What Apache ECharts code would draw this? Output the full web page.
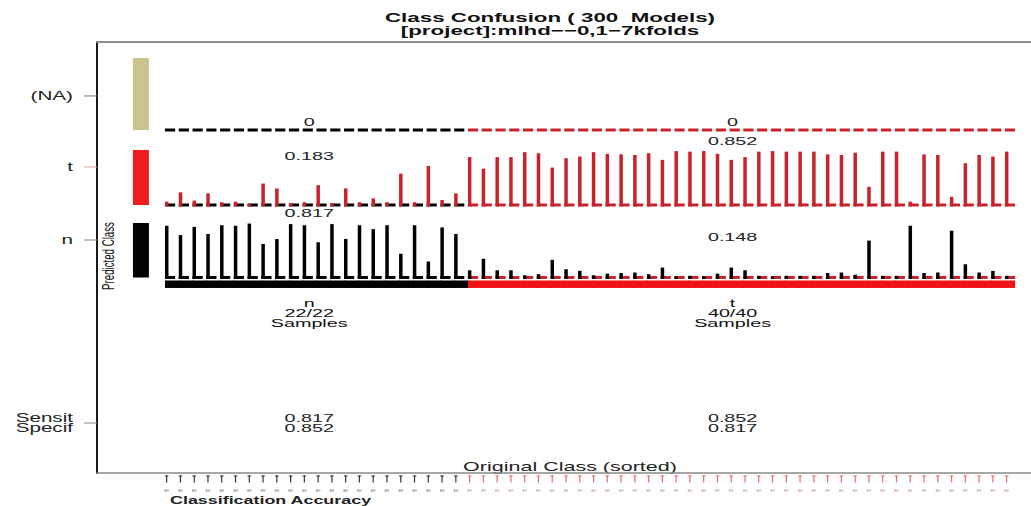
<!DOCTYPE html>
<html>
<head>
<meta charset="utf-8">
<title>Class Confusion</title>
<script src="https://cdn.jsdelivr.net/npm/echarts@6/dist/echarts.min.js"></script>
<style>
  html, body { margin: 0; padding: 0; background: #ffffff; }
  #chart { width: 1031px; height: 506px; }
</style>
</head>
<body>
<div id="chart"></div>
<script>
// ---- data ---------------------------------------------------------------
// original class of every sample (sorted by class)
const sampleClass = [
  'n','n','n','n','n','n','n','n','n','n','n',
  'n','n','n','n','n','n','n','n','n','n','n',
  't','t','t','t','t','t','t','t','t','t',
  't','t','t','t','t','t','t','t','t','t',
  't','t','t','t','t','t','t','t','t','t',
  't','t','t','t','t','t','t','t','t','t'
];
const classNames = ['n', 't'];
const rowLabels = ['(NA)', 't', 'n'];
const summaryLabels = ['Sensit', 'Specif'];
const titleLines = ['Class Confusion ( 300  Models)', '[project]:mlhd\u2212\u22120,1\u22127kfolds'];

// fraction of models predicting each class for every sample
const predictedNA = [
  0, 0, 0, 0, 0, 0, 0, 0, 0, 0, 0,
  0, 0, 0, 0, 0, 0, 0, 0, 0, 0, 0,
  0, 0, 0, 0, 0, 0, 0, 0, 0, 0,
  0, 0, 0, 0, 0, 0, 0, 0, 0, 0,
  0, 0, 0, 0, 0, 0, 0, 0, 0, 0,
  0, 0, 0, 0, 0, 0, 0, 0, 0, 0
];
const predictedT = [
  0.06, 0.23, 0.08, 0.21, 0.05, 0.06, 0.02, 0.39, 0.30, 0.03, 0.05,
  0.36, 0.03, 0.30, 0.05, 0.12, 0.05, 0.57, 0.05, 0.71, 0.09, 0.21,
  0.87, 0.66, 0.87, 0.87, 0.96, 0.94, 0.68, 0.85, 0.88, 0.96,
  0.93, 0.92, 0.91, 0.94, 0.82, 0.98, 0.97, 0.98, 0.93, 0.82,
  0.87, 0.97, 0.98, 0.97, 0.97, 0.97, 0.92, 0.91, 0.95, 0.33,
  0.97, 0.97, 0.06, 0.92, 0.91, 0.15, 0.76, 0.91, 0.88, 0.97
];
const predictedN = [
  0.94, 0.77, 0.92, 0.79, 0.95, 0.94, 0.98, 0.61, 0.70, 0.97, 0.95,
  0.64, 0.97, 0.70, 0.95, 0.88, 0.95, 0.43, 0.95, 0.29, 0.91, 0.79,
  0.13, 0.34, 0.13, 0.13, 0.04, 0.06, 0.32, 0.15, 0.12, 0.04,
  0.07, 0.08, 0.09, 0.06, 0.18, 0.02, 0.03, 0.02, 0.07, 0.18,
  0.13, 0.03, 0.02, 0.03, 0.03, 0.03, 0.08, 0.09, 0.05, 0.67,
  0.03, 0.03, 0.94, 0.08, 0.09, 0.85, 0.24, 0.09, 0.12, 0.03
];

// ---- layout (sample index horizontally, bar-height units vertically) ----
const X_MIN = -5.06, X_MAX = 62.77;
const Y_MIN = 0, Y_MAX = 7.836;
const ROW_BASE = [6.236, 4.873, 3.555];         // baselines of (NA), t, n
const ROW_TICK = [6.855, 5.564, 4.236];         // left axis label positions
const MEAN_LIFT = [[0.145, 0.145], [0.89, 1.164], [1.173, 0.736]];
const BLOCK_HEIGHT = [1.31, 1.0, 0.99];
const BLOCK_X = [-2.45, -1.29];
const BAND = [3.364, 3.5];
const GROUP_X = [10.35, 41.1];
const COUNT_Y = [3.091, 2.909, 2.727];
const SUMMARY_Y = [1.0, 0.818];
const SUMMARY_TICK = 0.909;
const DASH_LEN = 0.74;
const BAR_PX = 3.5;
const STRETCH = 1.72;
const FONT = '"Liberation Sans", Arial, Helvetica, sans-serif';

const CLASS_COLOR = { n: '#000000', t: '#c8232c' };
const BAND_COLOR = { n: '#000000', t: '#f01414' };
const TICK_COLOR = { n: '#333333', t: '#e07070' };
const TINY_COLOR = { n: '#8a8a8a', t: '#c7a4a4' };
const ROW_BAR_COLOR = ['#c9c38c', '#c8232c', '#000000'];
const ROW_BLOCK_COLOR = ['#c9c38c', '#ee1c1c', '#000000'];
const ROW_TICK_COLOR = ['#777777', '#e9a0a0', '#888888'];

// ---- summaries ----------------------------------------------------------
const rows = [predictedNA, predictedT, predictedN];
const ownRow = { n: predictedN, t: predictedT };
const groupIdx = classNames.map(c => sampleClass.map((s, i) => (s === c ? i : -1)).filter(i => i >= 0));
const mean = (arr, idx) => idx.reduce((s, i) => s + arr[i], 0) / idx.length;
const fmt = v => { const r = Math.round(v * 1000) / 1000; return r === 0 ? '0' : r.toFixed(3); };
const groupStats = classNames.map((c, g) => {
  const other = groupIdx[1 - g];
  return {
    means: rows.map(arr => fmt(mean(arr, groupIdx[g]))),
    counts: groupIdx[g].length + '/' + groupIdx[g].length,
    sensit: fmt(mean(ownRow[c], groupIdx[g])),
    specif: fmt(1 - mean(ownRow[c], other))
  };
});

// ---- helpers ------------------------------------------------------------
function txt(x, y, text, size, opts) {
  opts = opts || {};
  const align = opts.align || 'center';
  return {
    type: 'text', x: x, y: y,
    scaleX: opts.scaleX == null ? STRETCH : opts.scaleX,
    scaleY: opts.scaleY == null ? 1 : opts.scaleY,
    rotation: opts.rotation || 0,
    silent: true,
    style: {
      text: text, fill: opts.color || '#1a1a1a',
      fontSize: size, fontFamily: FONT, fontWeight: opts.weight || 'normal',
      align: align, textAlign: align,
      verticalAlign: 'middle', textVerticalAlign: 'middle'
    }
  };
}

function rowSeries(r) {
  return {
    type: 'custom', name: rowLabels[r], silent: true, animation: false,
    data: rows[r].map((v, i) => [i, v]),
    encode: { x: 0, y: 1 },
    renderItem: function (params, api) {
      const i = api.value(0), v = api.value(1);
      const base = api.coord([i, ROW_BASE[r]]);
      const top = api.coord([i, ROW_BASE[r] + v]);
      const dashW = api.size([DASH_LEN, 0])[0];
      const kids = [{
        type: 'rect',
        shape: { x: base[0] - 1.7, y: base[1] - 1.5, width: dashW, height: 3 },
        style: { fill: CLASS_COLOR[sampleClass[i]] }
      }];
      if (v > 0) {
        kids.push({
          type: 'rect',
          shape: { x: base[0] - 1.7, y: top[1], width: BAR_PX, height: base[1] - top[1] + 1.5 },
          style: { fill: ROW_BAR_COLOR[r] }
        });
      }
      return { type: 'group', children: kids };
    }
  };
}

// class band, bottom ticks and sample names
const sampleSeries = {
  type: 'custom', silent: true, animation: false,
  data: sampleClass.map((c, i) => [i, 0]),
  encode: { x: 0, y: 1 },
  renderItem: function (params, api) {
    const i = api.value(0);
    const cls = sampleClass[i];
    const lo = api.coord([i, BAND[0]]);
    const hi = api.coord([i, BAND[1]]);
    // segments overlap slightly so the band reads as one solid strip
    const w = i < sampleClass.length - 1 ? api.size([1, 0])[0] + 0.8 : api.size([DASH_LEN, 0])[0];
    const ax = api.coord([i, Y_MIN]);
    return {
      type: 'group',
      children: [
        { type: 'rect', shape: { x: lo[0] - 1.7, y: hi[1], width: w, height: lo[1] - hi[1] }, style: { fill: BAND_COLOR[cls] } },
        { type: 'line', shape: { x1: ax[0], y1: ax[1] + 2.5, x2: ax[0], y2: ax[1] + 9.5 }, style: { stroke: TICK_COLOR[cls], lineWidth: 1.2 } },
        { type: 'line', shape: { x1: ax[0] - 1.8, y1: ax[1] + 3, x2: ax[0] + 1.8, y2: ax[1] + 3 }, style: { stroke: TICK_COLOR[cls], lineWidth: 1 } },
        txt(ax[0], ax[1] + 17, 'e', 5.5, { color: TINY_COLOR[cls] })
      ]
    };
  }
};

// colour keys and labels of the predicted-class rows
const rowKeySeries = {
  type: 'custom', silent: true, animation: false,
  data: rowLabels.map((l, r) => [r, 0]),
  encode: { x: 0, y: 1 },
  renderItem: function (params, api) {
    const r = api.value(0);
    const b0 = api.coord([BLOCK_X[0], ROW_BASE[r]]);
    const b1 = api.coord([BLOCK_X[1], ROW_BASE[r] + BLOCK_HEIGHT[r]]);
    const t = api.coord([X_MIN, ROW_TICK[r]]);
    return {
      type: 'group',
      children: [
        { type: 'rect', shape: { x: b0[0], y: b1[1], width: b1[0] - b0[0], height: b0[1] - b1[1] }, style: { fill: ROW_BLOCK_COLOR[r] } },
        { type: 'line', shape: { x1: t[0] - 13, y1: t[1], x2: t[0], y2: t[1] }, style: { stroke: ROW_TICK_COLOR[r], lineWidth: 1 } },
        txt(t[0] - 24, t[1], rowLabels[r], 12, { align: 'right', color: '#222' })
      ]
    };
  }
};

// per-class group texts: row means, sample counts, sensitivity/specificity
const groupSeries = {
  type: 'custom', silent: true, animation: false,
  data: GROUP_X.map((x, g) => [x, g]),
  encode: { x: 0, y: 1 },
  renderItem: function (params, api) {
    const g = params.dataIndex;
    const cx = api.value(0);
    const st = groupStats[g];
    const kids = [];
    rowLabels.forEach((l, r) => {
      const p = api.coord([cx, ROW_BASE[r] + MEAN_LIFT[r][g]]);
      kids.push(txt(p[0], p[1], st.means[r], 11.5, { color: '#222' }));
    });
    [classNames[g], st.counts, 'Samples'].forEach((s, k) => {
      const p = api.coord([cx, COUNT_Y[k]]);
      kids.push(txt(p[0], p[1], s, 11.5, { color: '#111' }));
    });
    [st.sensit, st.specif].forEach((s, k) => {
      const p = api.coord([cx, SUMMARY_Y[k]]);
      kids.push(txt(p[0], p[1], s, 11.5, { color: '#222' }));
    });
    if (g === 0) {
      const t = api.coord([X_MIN, SUMMARY_TICK]);
      kids.push({ type: 'line', shape: { x1: t[0] - 13, y1: t[1], x2: t[0], y2: t[1] }, style: { stroke: '#888', lineWidth: 1 } });
      summaryLabels.forEach((s, k) => {
        const p = api.coord([X_MIN, SUMMARY_Y[k]]);
        kids.push(txt(p[0] - 24, p[1], s, 12, { align: 'right', color: '#222' }));
      });
    }
    return { type: 'group', children: kids };
  }
};

const chart = echarts.init(document.getElementById('chart'), null, { renderer: 'svg' });
chart.setOption({
  animation: false,
  backgroundColor: '#ffffff',
  grid: { left: 97, right: 0, top: 42, bottom: 33, show: false },
  xAxis: [
    {
      type: 'value', min: X_MIN, max: X_MAX, position: 'bottom',
      axisLine: { show: true, onZero: false, lineStyle: { color: '#8a8a8a', width: 1.5 } },
      axisTick: { show: false }, axisLabel: { show: false }, splitLine: { show: false }
    },
    {
      type: 'value', min: X_MIN, max: X_MAX, position: 'top',
      axisLine: { show: true, onZero: false, lineStyle: { color: '#8f8f8f', width: 2 } },
      axisTick: { show: false }, axisLabel: { show: false }, splitLine: { show: false }
    }
  ],
  yAxis: {
    type: 'value', min: Y_MIN, max: Y_MAX,
    axisLine: { show: true, onZero: false, lineStyle: { color: '#1a1a1a', width: 2 } },
    axisTick: { show: false }, axisLabel: { show: false }, splitLine: { show: false }
  },
  graphic: [
    txt(550, 17, titleLines[0], 13, { weight: 'bold', color: '#111' }),
    txt(550, 30, titleLines[1], 13, { weight: 'bold', color: '#111' }),
    txt(108, 256, 'Predicted Class', 9.7, { rotation: Math.PI / 2, scaleX: 1, scaleY: STRETCH, color: '#111' }),
    txt(570, 467, 'Original Class (sorted)', 12.5, { color: '#222' }),
    txt(170, 500, 'Classification Accuracy', 10.4, { align: 'left', weight: 'bold', color: '#222' })
  ],
  series: [rowSeries(0), rowSeries(1), rowSeries(2), sampleSeries, rowKeySeries, groupSeries]
});
</script>
</body>
</html>
